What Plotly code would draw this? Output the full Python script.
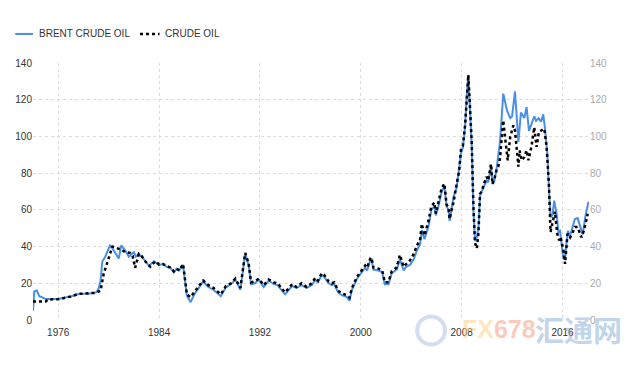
import plotly.graph_objects as go

# Brent crude oil (decimal year, USD/bbl)
brent_x = [1974.0, 1974.1, 1974.3, 1974.5, 1974.7, 1975.0, 1975.5, 1976.0, 1976.5, 1977.0, 1977.6, 1978.0,
           1978.5, 1979.0, 1979.2, 1979.36, 1979.5, 1979.7, 1979.9, 1980.1, 1980.3, 1980.5, 1980.8, 1981.0,
           1981.3, 1981.6, 1982.0, 1982.15, 1982.4, 1982.7, 1983.0, 1983.2, 1983.6, 1984.0, 1984.3, 1984.6,
           1984.9, 1985.17, 1985.4, 1985.6, 1985.9, 1986.1, 1986.2, 1986.5, 1986.8, 1987.15, 1987.5, 1987.9,
           1988.3, 1988.9, 1989.3, 1989.7, 1990.05, 1990.45, 1990.7, 1990.83, 1991.1, 1991.3, 1991.6, 1991.9,
           1992.3, 1992.7, 1993.1, 1993.4, 1993.75, 1994.0, 1994.55, 1994.9, 1995.3, 1995.7, 1996.1, 1996.4,
           1996.6, 1996.9, 1997.1, 1997.45, 1997.7, 1997.9, 1998.2, 1998.5, 1998.9, 1999.1, 1999.3, 1999.7,
           1999.96, 2000.35, 2000.5, 2000.75, 2000.85, 2001.0, 2001.4, 2001.7, 2001.9, 2002.2, 2002.45, 2002.85,
           2003.1, 2003.4, 2003.6, 2003.9, 2004.2, 2004.45, 2004.7, 2004.84, 2005.05, 2005.37, 2005.6, 2005.84,
           2005.95, 2006.16, 2006.42, 2006.63, 2006.8, 2006.95, 2007.05, 2007.16, 2007.35, 2007.6, 2007.8, 2007.95,
           2008.1, 2008.27, 2008.4, 2008.53, 2008.66, 2008.8, 2008.93, 2009.06, 2009.2, 2009.33, 2009.46, 2009.6,
           2009.75, 2009.98, 2010.1, 2010.33, 2010.45, 2010.6, 2010.78, 2010.9, 2011.04, 2011.3, 2011.5, 2011.6,
           2011.85, 2012.0, 2012.23, 2012.4, 2012.5, 2012.7, 2012.97, 2013.15, 2013.34, 2013.55, 2013.76, 2013.9,
           2014.1, 2014.3, 2014.47, 2014.6, 2014.8, 2014.93, 2015.05, 2015.2, 2015.34, 2015.53, 2015.67, 2015.8,
           2015.95, 2016.07, 2016.2, 2016.42, 2016.6, 2016.77, 2016.98, 2017.2, 2017.4, 2017.6, 2017.8, 2017.95,
           2018.06]
brent_y = [5, 15.5, 16, 13, 12.5, 11.4, 11.4, 11.5, 12.3, 12.8, 14.2, 14.3,
           14.4, 15, 17, 21.5, 32, 34, 37, 40.5, 39, 37, 33.5, 40.6,
           38, 34.5, 37, 34.5, 36, 34, 31, 29.5, 32, 30, 30.5, 29,
           28.5, 26, 28, 27, 30, 19, 13.4, 9.7, 14, 17.5, 21, 18,
           16.5, 13, 17.8, 19.5, 22, 16.5, 30, 36, 30, 19.5, 20, 22,
           18, 21.5, 19.5, 19, 16, 14, 18.5, 17.5, 19, 17.5, 19, 21.8,
           20.5, 24.5, 23.5, 20, 19, 19.5, 15, 13.5, 12.5, 10.5, 16.5, 22.5,
           25, 28.5, 27, 32.5, 33, 27.5, 27, 26, 19.5, 19.5, 25.5, 27.5,
           33, 27, 29, 30, 33, 38, 41, 49, 44, 51, 60, 62,
           57, 62, 70, 73, 62, 60, 54, 58, 67, 72, 82, 91,
           94, 105, 122, 133.5, 115, 95, 60, 43, 45, 50, 68, 70,
           72, 76, 75, 84, 74, 76, 83, 90, 97, 123.3, 116, 114,
           110, 111, 124.5, 110, 97, 113, 110, 116, 103, 107, 111, 108.5,
           110, 108, 112, 105, 90, 70, 56, 57, 65, 58, 48, 48.5,
           40, 33, 34, 48.5, 46, 50.5, 55, 55.5, 51, 46.5, 56, 61,
           64.5]

# Crude oil (WTI)
crude_x = [1974.0, 1975.0, 1975.2, 1976.0, 1976.5, 1977.0, 1977.6, 1978.5, 1979.0, 1979.36, 1979.6, 1979.9,
           1980.15, 1980.3, 1980.7, 1981.0, 1981.3, 1981.7, 1981.9, 1982.1, 1982.4, 1982.6, 1982.9, 1983.3,
           1983.7, 1984.0, 1984.3, 1984.6, 1984.9, 1985.17, 1985.4, 1985.6, 1985.9, 1986.1, 1986.2, 1986.5,
           1986.8, 1987.15, 1987.5, 1987.9, 1988.3, 1988.9, 1989.3, 1989.7, 1990.05, 1990.45, 1990.7, 1990.83,
           1991.1, 1991.3, 1991.6, 1991.9, 1992.3, 1992.7, 1993.1, 1993.4, 1993.75, 1994.0, 1994.55, 1994.9,
           1995.3, 1995.7, 1996.1, 1996.4, 1996.6, 1996.9, 1997.1, 1997.45, 1997.7, 1997.9, 1998.2, 1998.5,
           1998.9, 1999.1, 1999.3, 1999.7, 1999.96, 2000.35, 2000.5, 2000.75, 2000.85, 2001.0, 2001.4, 2001.7,
           2001.9, 2002.2, 2002.45, 2002.85, 2003.1, 2003.4, 2003.6, 2003.9, 2004.2, 2004.45, 2004.7, 2004.84,
           2005.05, 2005.37, 2005.6, 2005.84, 2005.95, 2006.16, 2006.42, 2006.63, 2006.8, 2006.95, 2007.05, 2007.16,
           2007.35, 2007.6, 2007.8, 2007.95, 2008.1, 2008.27, 2008.4, 2008.53, 2008.66, 2008.8, 2008.93, 2009.06,
           2009.2, 2009.33, 2009.46, 2009.6, 2009.75, 2009.98, 2010.1, 2010.33, 2010.45, 2010.6, 2010.78, 2010.9,
           2011.04, 2011.3, 2011.5, 2011.65, 2011.85, 2012.1, 2012.23, 2012.35, 2012.5, 2012.6, 2012.75, 2012.97,
           2013.15, 2013.3, 2013.55, 2013.76, 2013.94, 2014.13, 2014.35, 2014.55, 2014.74, 2014.93, 2015.05, 2015.2,
           2015.4, 2015.58, 2015.74, 2015.85, 2016.07, 2016.2, 2016.4, 2016.6, 2016.77, 2016.98, 2017.2, 2017.5,
           2017.7, 2018.0]
crude_y = [10.1, 10.1, 11.2, 11.3, 12, 12.8, 14.2, 14.5, 14.8, 16, 25, 31.5,
           37, 40, 39, 38.5, 37, 36.5, 35, 28.4, 36, 35, 32, 29,
           32, 30.2, 30.5, 29.5, 28.5, 26.5, 28, 27, 30.5, 20, 14, 12.5,
           15, 18.5, 21.5, 19, 17.5, 14, 18.5, 20, 22.5, 17.5, 30, 36.5,
           31, 20.5, 21, 22.5, 19, 22, 20.5, 20, 17, 15, 19.5, 18,
           20, 18, 20, 23, 21.5, 25.5, 24.5, 21, 20, 20.5, 16, 14.5,
           13.5, 12.2, 17.5, 23.5, 26, 29.7, 28.5, 33.5, 34, 28.6, 28, 27,
           20.6, 20.6, 26.5, 28.6, 35.5, 29, 30.5, 32.4, 36, 40.6, 43.5, 52.4,
           46, 54, 62, 64, 58, 64, 72, 74.3, 63, 61, 55, 59,
           64, 74, 81, 93, 95, 106, 122, 133.5, 116, 96, 62, 42,
           39, 47, 68.8, 70, 74, 78, 76, 85, 74, 77, 82, 83.5,
           88, 108.7, 96, 87, 99.6, 106, 103.3, 94, 83.5, 92.4, 87, 88.7,
           92.4, 87, 95, 105, 94.3, 102.5, 103.3, 104.2, 94.3, 72.6, 48, 52.4,
           59, 47, 43.3, 45, 38, 30.6, 47, 45, 47, 50.6, 50.6, 45,
           48.8, 57.9]

series_names = ["BRENT CRUDE OIL", "CRUDE OIL"]
year_ticks = [1976, 1984, 1992, 2000, 2008, 2016]
value_ticks = [0, 20, 40, 60, 80, 100, 120, 140]

FONT = "Liberation Sans, Arial, sans-serif"
GRID = "#dcdcdc"
BLUE = "#4a8fe7"
FS = 10

fig = go.Figure()
fig.add_trace(go.Scatter(x=brent_x, y=brent_y, name=series_names[0], mode="lines",
                         line=dict(color=BLUE, width=2)))
fig.add_trace(go.Scatter(x=crude_x, y=crude_y, name=series_names[1], mode="lines",
                         line=dict(color="#000000", width=2.5, dash="dot")))
# invisible copy to drive the right-hand axis
fig.add_trace(go.Scatter(x=brent_x, y=brent_y, yaxis="y2", mode="lines", showlegend=False,
                         hoverinfo="skip", line=dict(color="rgba(0,0,0,0)", width=0)))

fig.update_layout(
    width=640, height=366,
    margin=dict(l=25, r=59, t=55, b=54, autoexpand=False),
    paper_bgcolor="white", plot_bgcolor="white",
    font=dict(family=FONT, size=FS, color="#333333"),
    showlegend=False,
    xaxis=dict(range=[1974.0, 2018.1], tickvals=year_ticks, ticktext=[str(t) for t in year_ticks],
               showgrid=True, gridcolor=GRID, griddash="dot", gridwidth=1,
               zeroline=False, showline=False, ticks="outside", ticklen=3,
               tickcolor="rgba(0,0,0,0)", automargin=False,
               tickfont=dict(family=FONT, size=FS, color="#333333")),
    yaxis=dict(range=[0, 140], tickvals=value_ticks, showgrid=True, gridcolor=GRID, griddash="dot",
               gridwidth=1, zeroline=False, showline=False, ticks="", automargin=False,
               tickfont=dict(family=FONT, size=FS, color="#333333")),
    yaxis2=dict(range=[0, 140], tickvals=value_ticks, overlaying="y", side="right",
                showgrid=False, zeroline=False, showline=False, ticks="", automargin=False,
                tickfont=dict(family=FONT, size=FS, color="#aaaaaa")),
)

# legend (drawn as keys + text above the plot)
LEG_Y = 1.113
fig.add_shape(type="line", xref="paper", yref="paper", x0=-0.032, x1=0.0, y0=LEG_Y, y1=LEG_Y,
              line=dict(color=BLUE, width=2))
fig.add_annotation(x=0.0072, y=LEG_Y, xref="paper", yref="paper", text=series_names[0], showarrow=False,
                   xanchor="left", yanchor="middle", font=dict(family=FONT, size=FS, color="#333333"))
fig.add_shape(type="line", xref="paper", yref="paper", x0=0.1925, x1=0.2275, y0=LEG_Y, y1=LEG_Y,
              line=dict(color="#000000", width=2.5, dash="dot"))
fig.add_annotation(x=0.2338, y=LEG_Y, xref="paper", yref="paper", text=series_names[1], showarrow=False,
                   xanchor="left", yanchor="middle", font=dict(family=FONT, size=FS, color="#333333"))

# watermark
fig.add_annotation(x=0.768, y=-0.035, xref="paper", yref="paper",
                   text="<b><span style='color:rgba(253,205,130,0.5)'>FX</span>"
                        "<span style='color:rgba(250,150,120,0.5)'>678</span></b>",
                   showarrow=False, font=dict(family=FONT, size=25),
                   xanchor="left", yanchor="middle")
fig.add_annotation(x=0.9, y=-0.035, xref="paper", yref="paper", text="<b>汇通网</b>", showarrow=False,
                   font=dict(family="Noto Sans CJK SC", size=29, color="rgba(120,160,210,0.45)"),
                   xanchor="left", yanchor="middle")
fig.add_shape(type="circle", xref="paper", yref="paper", x0=0.691, x1=0.741, y0=-0.095, y1=0.014,
              line=dict(color="rgba(150,170,220,0.4)", width=4), fillcolor="rgba(0,0,0,0)")

fig.write_html("out.html")
